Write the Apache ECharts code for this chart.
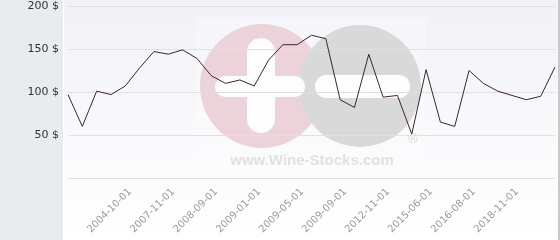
<!DOCTYPE html>
<html><head><meta charset="utf-8">
<script src="https://cdn.jsdelivr.net/npm/echarts@6/dist/echarts.min.js"></script>
<style>html,body{margin:0;padding:0;background:#fff}#c{width:560px;height:240px}</style>
</head><body><div id="c"></div>
<script>
var categories = ['2003-06-01','2003-11-01','2004-02-01','2004-06-01','2004-10-01','2005-09-01','2006-10-01','2007-11-01','2008-02-01','2008-06-01','2008-09-01','2008-10-01','2008-11-01','2009-01-01','2009-02-01','2009-03-01','2009-05-01','2009-06-01','2009-07-01','2009-09-01','2010-06-01','2011-08-01','2012-11-01','2013-09-01','2014-08-01','2015-06-01','2015-10-01','2016-02-01','2016-08-01','2017-05-01','2018-02-01','2018-11-01','2019-06-01','2020-03-01','2021-01-01'];
var prices = [97,60,101,97,107,128,147,144,149,139,119,110,114,107,137,155,155,166,162,91,82,144,94,96,51,126,65,60,125,110,101,96,91,95,129];
var labeledDates = ['2004-10-01','2007-11-01','2008-09-01','2009-01-01','2009-05-01','2009-09-01','2012-11-01','2015-06-01','2016-08-01','2018-11-01'];
var yTicks = [0,50,100,150,200];

var chart = echarts.init(document.getElementById('c'), null, {renderer:'canvas'});
chart.setOption({
  animation:false,
  grid:{left:68,right:5,top:6,bottom:62,containLabel:false},
  graphic:[
    {type:'rect',z:-10,shape:{x:0,y:0,width:63,height:240},style:{fill:'#e8ecef'}},
    {type:'rect',z:-10,shape:{x:64,y:0,width:494,height:240},style:{fill:new echarts.graphic.LinearGradient(0,0,0,1,[{offset:0,color:'#f1f2f7'},{offset:1,color:'#ffffff'}])}},
    {type:'rect',z:-10,shape:{x:558,y:0,width:2,height:240},style:{fill:'#c9c9c9'}},
    {type:'rect',z:-9,shape:{x:196,y:18,width:230,height:160},style:{fill:'rgba(255,255,255,0.25)'}},
    {type:'circle',z:-8,shape:{cx:262,cy:86,r:62},style:{fill:'#ecd3da'}},
    {type:'circle',z:-7,shape:{cx:360,cy:86,r:61},style:{fill:'#d9d9d9'}},
    {type:'rect',z:-6,shape:{x:247,y:38,width:28,height:95,r:14},style:{fill:'#fdfdfd'}},
    {type:'rect',z:-6,shape:{x:215,y:76,width:90,height:21,r:10},style:{fill:'#fdfdfd'}},
    {type:'rect',z:-6,shape:{x:315,y:75,width:95,height:23,r:11},style:{fill:'#fdfdfd'}},
    {type:'text',z:-6,style:{x:312,y:168,text:'www.Wine-Stocks.com',align:'center',verticalAlign:'bottom',font:'bold 15px "Liberation Sans", Arial, sans-serif',fill:'#e1e1e1'}},
    {type:'text',z:-6,style:{x:413,y:139,text:'®',align:'center',verticalAlign:'middle',font:'13px "Liberation Sans", Arial, sans-serif',fill:'#d3d3d3'}}
  ],
  xAxis:{
    type:'category',data:categories,boundaryGap:false,
    axisLine:{show:false},axisTick:{show:false},splitLine:{show:false},
    axisLabel:{rotate:45,fontSize:10,color:'#9a9a9a',fontFamily:'DejaVu Sans',margin:17,
      padding:[0,-7,0,0],
      interval:function(i,v){return labeledDates.indexOf(v)>=0;}}
  },
  yAxis:{
    type:'value',min:yTicks[0],max:yTicks[yTicks.length-1],interval:50,
    axisLine:{show:false},axisTick:{show:false},
    splitLine:{lineStyle:{color:'#e0e0e0',width:1}},
    axisLabel:{fontSize:11,color:'#333',fontFamily:'DejaVu Sans',margin:9,
      formatter:function(v){return v===0?'':v+' $';}}
  },
  series:[{type:'line',data:prices,symbol:'none',lineStyle:{color:'#3d2431',width:1}}]
});
</script></body></html>
